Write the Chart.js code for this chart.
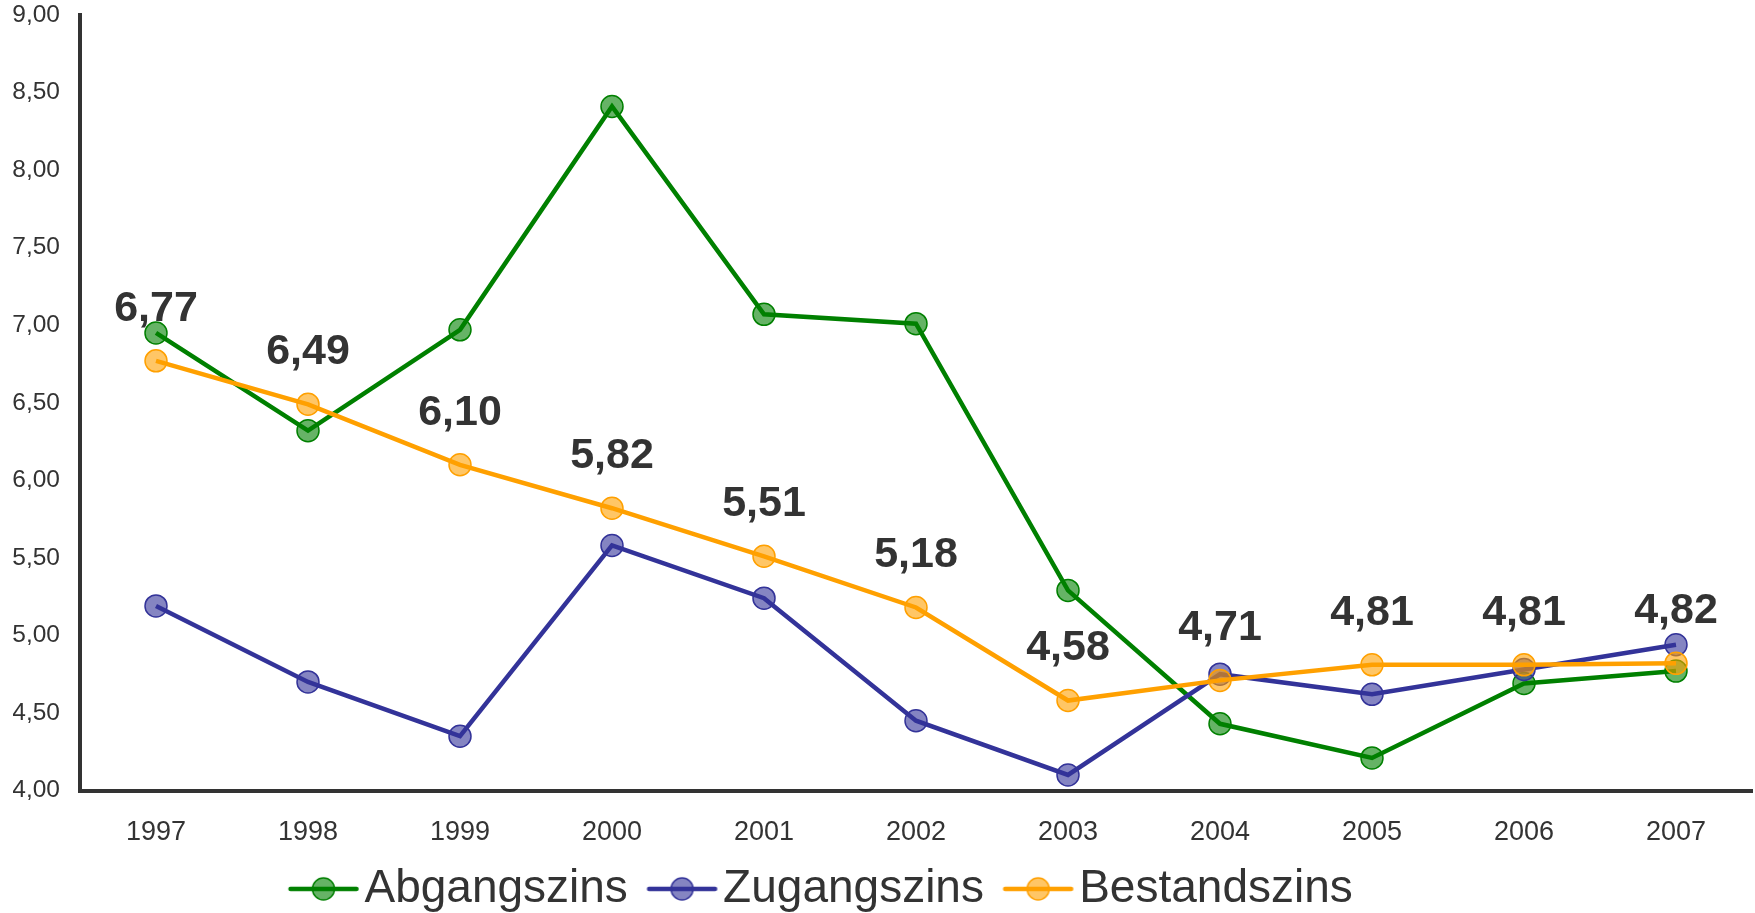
<!DOCTYPE html>
<html>
<head>
<meta charset="utf-8">
<title>Zinsentwicklung 1997-2007</title>
<script src="https://cdn.jsdelivr.net/npm/chart.js@4.4.1/dist/chart.umd.min.js"></script>
<style>
  html, body { margin: 0; padding: 0; background: #ffffff; }
  canvas { display: block; }
</style>
</head>
<body>
<canvas id="zinsChart" width="1755" height="913"></canvas>
<script>
// Werte
var years = ['1997', '1998', '1999', '2000', '2001', '2002', '2003', '2004', '2005', '2006', '2007'];
var abgangszins = [6.95, 6.32, 6.97, 8.41, 7.07, 7.01, 5.29, 4.43, 4.21, 4.69, 4.77];
var zugangszins = [5.19, 4.70, 4.35, 5.58, 5.24, 4.45, 4.10, 4.75, 4.62, 4.78, 4.94];
var bestandszins = [6.77, 6.49, 6.10, 5.82, 5.51, 5.18, 4.58, 4.71, 4.81, 4.81, 4.82];
var yMin = 4, yMax = 9, yStep = 0.5;

var textColor = '#333333';
var fontFamily = '"Liberation Sans", Arial, Helvetica, sans-serif';

function fmt(v) {
    return v.toFixed(2).replace('.', ',');
}

// Legendensymbol: Linie mit Kreis in der Mitte
function legendIcon(line, fill) {
    var c = document.createElement('canvas');
    c.width = 130;
    c.height = 28;
    var g = c.getContext('2d');
    g.strokeStyle = line;
    g.lineWidth = 4.5;
    g.lineCap = 'round';
    g.beginPath();
    g.moveTo(41.6, 14);
    g.lineTo(107.6, 14);
    g.stroke();
    g.beginPath();
    g.arc(74.6, 14, 11, 0, Math.PI * 2);
    g.fillStyle = fill;
    g.fill();
    g.lineWidth = 1.5;
    g.stroke();
    return c;
}

var colors = [
    { line: '#008000', fill: 'rgba(0, 128, 0, 0.6)' },
    { line: '#333399', fill: 'rgba(51, 51, 153, 0.6)' },
    { line: '#FFA000', fill: 'rgba(255, 160, 0, 0.6)' }
];
var icons = colors.map(function(c) { return legendIcon(c.line, c.fill); });

function makeDataset(label, values, c, order) {
    return {
        label: label,
        data: values,
        borderColor: c.line,
        backgroundColor: c.fill,
        borderWidth: 4.5,
        tension: 0,
        pointRadius: 11,
        pointHoverRadius: 11,
        pointBorderWidth: 1.5,
        pointBackgroundColor: c.fill,
        pointBorderColor: c.line,
        order: order
    };
}

// Werte der Bestandszinsen ueber den Punkten
var bestandLabels = {
    id: 'bestandLabels',
    afterDatasetsDraw: function(chart) {
        var meta = chart.getDatasetMeta(2);
        var ctx = chart.ctx;
        ctx.save();
        ctx.font = 'bold 43px ' + fontFamily;
        ctx.fillStyle = textColor;
        ctx.textAlign = 'center';
        ctx.textBaseline = 'middle';
        meta.data.forEach(function(pt, i) {
            ctx.fillText(fmt(bestandszins[i]), pt.x, pt.y - 52);
        });
        ctx.restore();
    }
};

// Legende sitzt in der Vorlage etwas links der Mitte
var legendShift = {
    id: 'legendShift',
    afterLayout: function(chart) {
        chart.legend.left -= 63;
        chart.legend.right -= 63;
    }
};

var ctx = document.getElementById('zinsChart').getContext('2d');
var chart = new Chart(ctx, {
    type: 'line',
    data: {
        labels: years,
        datasets: [
            makeDataset('Abgangszins', abgangszins, colors[0], 3),
            makeDataset('Zugangszins', zugangszins, colors[1], 2),
            makeDataset('Bestandszins', bestandszins, colors[2], 1)
        ]
    },
    options: {
        responsive: false,
        animation: false,
        events: [],
        layout: {
            autoPadding: false,
            padding: { left: 13, right: 3, top: 15, bottom: -8.9 }
        },
        scales: {
            x: {
                type: 'category',
                offset: true,
                grid: { display: false, drawTicks: false },
                border: { display: true, color: textColor, width: 4 },
                ticks: {
                    color: textColor,
                    padding: 26,
                    font: { family: fontFamily, size: 27 }
                },
                afterFit: function(s) {
                    s.height = 58.4;
                    s.paddingLeft = 0;
                    s.paddingRight = 0;
                }
            },
            y: {
                min: yMin,
                max: yMax,
                grid: { display: false, drawTicks: false },
                border: { display: true, color: textColor, width: 4 },
                ticks: {
                    stepSize: yStep,
                    color: textColor,
                    padding: 20,
                    font: { family: fontFamily, size: 24.5 },
                    callback: function(v) { return fmt(v); }
                },
                afterFit: function(s) {
                    s.width = 67;
                    s.paddingTop = 0;
                    s.paddingBottom = 0;
                }
            }
        },
        plugins: {
            tooltip: { enabled: false },
            legend: {
                position: 'bottom',
                labels: {
                    color: textColor,
                    font: { family: fontFamily, size: 46 },
                    usePointStyle: true,
                    pointStyleWidth: 55.25,
                    padding: 17,
                    sort: function(a, b) { return a.datasetIndex - b.datasetIndex; },
                    generateLabels: function(chart) {
                        var items = Chart.defaults.plugins.legend.labels.generateLabels(chart);
                        items.forEach(function(it) {
                            it.pointStyle = icons[it.datasetIndex];
                        });
                        return items;
                    }
                }
            }
        }
    },
    plugins: [bestandLabels, legendShift]
});
</script>
</body>
</html>
